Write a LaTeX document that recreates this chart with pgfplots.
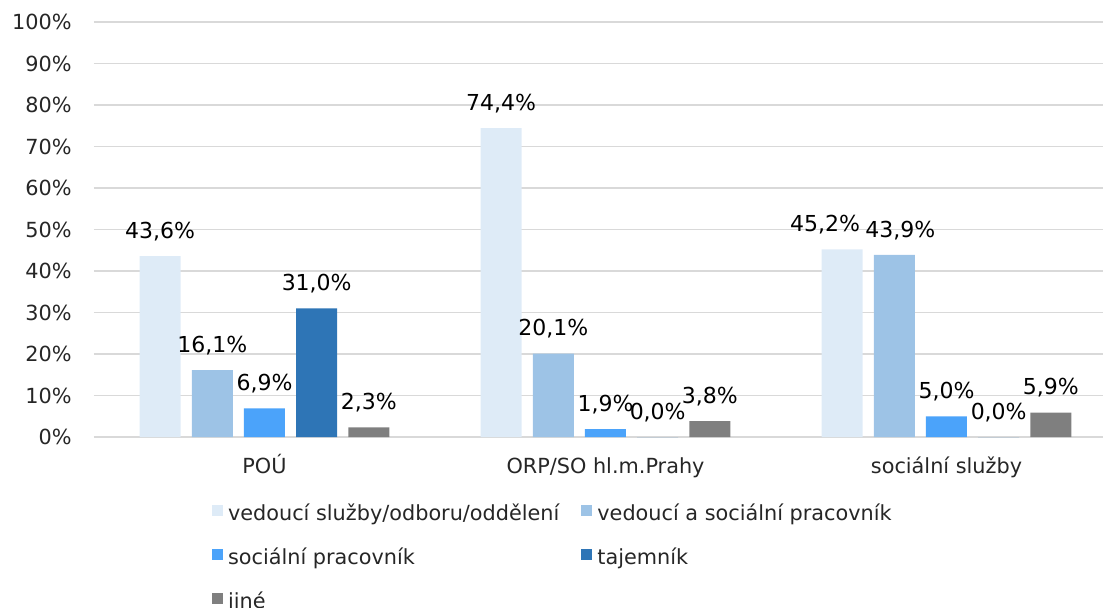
\documentclass[border=0pt]{standalone}
\usepackage{pgfplots}
\pgfplotsset{compat=1.18}
\usepackage{fontspec}
\setmainfont{DejaVu Sans}
\definecolor{c1}{HTML}{DEEBF7}
\definecolor{c2}{HTML}{9DC3E6}
\definecolor{c3}{HTML}{4BA3FA}
\definecolor{c4}{HTML}{2E75B6}
\definecolor{c5}{HTML}{7F7F7F}
\definecolor{gridc}{HTML}{D9D9D9}
\definecolor{txt}{HTML}{262626}
\newcommand{\fs}{\fontsize{10.4}{12}\selectfont}
\newcommand{\fb}{\fontsize{11}{13}\selectfont}
\pgfplotsset{sq/.style={legend image code/.code={\fill[##1] (0pt,-0.3pt) rectangle (5.5pt,5.2pt);}}}
\begin{document}
\begin{tikzpicture}
\useasboundingbox (-47pt,-85pt) rectangle (504.5pt,218.5pt);
\begin{axis}[
  at={(0pt,0pt)}, anchor=south west,
  scale only axis, width=504.5pt, height=207.5pt,
  xmin=-0.5, xmax=2.459, ymin=0, ymax=100,
  ybar=5.6pt, bar width=20.5pt,
  axis line style={draw=none},
  xtick={0,1,2}, xticklabels={POÚ, ORP/SO hl.m.Prahy, sociální služby},
  ytick={0,10,...,100},
  yticklabel={\pgfmathprintnumber{\tick}\%},
  major tick length=0pt,
  ymajorgrids, grid style={color=gridc, line width=0.9pt},
  /pgf/number format/assume math mode=true,
  tick label style={font=\fs, text=txt},
  xticklabel style={inner sep=0pt, text height=8pt, text depth=2pt, anchor=north, yshift=-10pt},
  yticklabel style={inner sep=0pt, anchor=east, xshift=-11pt},
  nodes near coords={\pgfmathprintnumber[fixed,fixed zerofill,precision=1,use comma]{\pgfplotspointmeta}\%},
  every node near coord/.append style={font=\fb, text=black, anchor=south, yshift=4pt},
  legend cell align=left,
  legend style={at={(0.117,-0.164)}, anchor=north west, draw=none, fill=none,
    inner sep=0pt, outer sep=0pt, legend columns=2, row sep=12pt,
    nodes={inner sep=0pt, text height=7.5pt, text depth=2pt, font=\fs, text=txt},
    /tikz/every odd column/.append style={column sep=2.5pt},
    /tikz/every even column/.append style={column sep=11pt}},
]
\addplot[fill=c1, draw=none, sq, coordinate style/.condition={\coordindex==2}{xshift=-8.5pt}] coordinates {(0,43.6) (1,74.4) (2,45.2)};
\addplot[fill=c2, draw=none, sq, coordinate style/.condition={\coordindex==2}{xshift=3pt}] coordinates {(0,16.1) (1,20.1) (2,43.9)};
\addplot[fill=c3, draw=none, sq] coordinates {(0,6.9) (1,1.9) (2,5.0)};
\addplot[fill=c4, draw=none, sq] coordinates {(0,31.0) (1,0.0) (2,0.0)};
\addplot[fill=c5, draw=none, sq] coordinates {(0,2.3) (1,3.8) (2,5.9)};
\legend{vedoucí služby/odboru/oddělení, vedoucí a sociální pracovník, sociální pracovník, tajemník, jiné}
\end{axis}
\end{tikzpicture}
\end{document}
